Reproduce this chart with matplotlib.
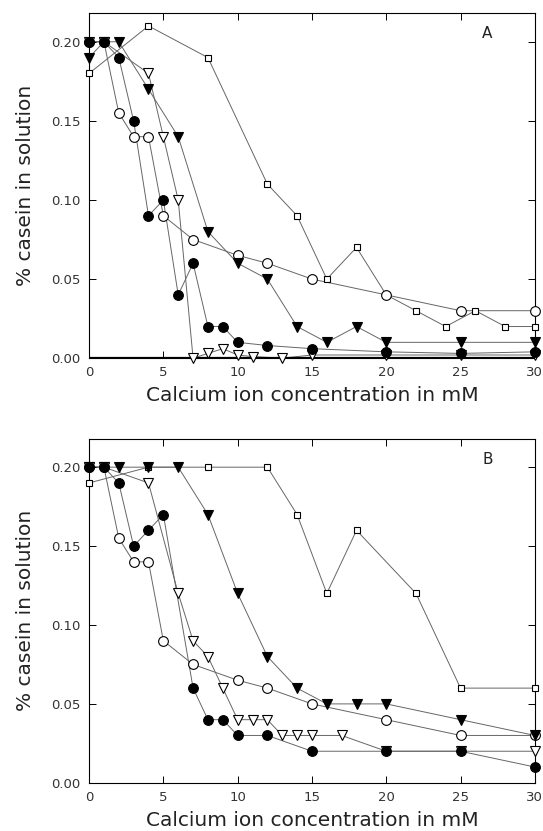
import matplotlib.pyplot as plt

# panel A data (% casein in solution vs calcium mM)
a_sq_x = [0, 4, 8, 12, 14, 16, 18, 20, 22, 24, 26, 28, 30]
a_sq_y = [0.18, 0.21, 0.19, 0.11, 0.09, 0.05, 0.07, 0.04, 0.03, 0.02, 0.03, 0.02, 0.02]
a_oc_x = [0, 1, 2, 3, 4, 5, 7, 10, 12, 15, 20, 25, 30]
a_oc_y = [0.20, 0.20, 0.155, 0.14, 0.14, 0.09, 0.075, 0.065, 0.06, 0.05, 0.04, 0.03, 0.03]
a_ft_x = [0, 1, 2, 4, 6, 8, 10, 12, 14, 16, 18, 20, 25, 30]
a_ft_y = [0.19, 0.20, 0.20, 0.17, 0.14, 0.08, 0.06, 0.05, 0.02, 0.01, 0.02, 0.01, 0.01, 0.01]
a_fc_x = [0, 1, 2, 3, 4, 5, 6, 7, 8, 9, 10, 12, 15, 20, 25, 30]
a_fc_y = [0.20, 0.20, 0.19, 0.15, 0.09, 0.10, 0.04, 0.06, 0.02, 0.02, 0.01, 0.008, 0.006, 0.004, 0.003, 0.004]
a_ot_x = [0, 1, 4, 5, 6, 7, 8, 9, 10, 11, 13, 15, 20, 25, 30]
a_ot_y = [0.20, 0.20, 0.18, 0.14, 0.10, 0.0, 0.003, 0.006, 0.002, 0.001, 0.0, 0.002, 0.002, 0.002, 0.002]

# panel B data
b_sq_x = [0, 4, 8, 12, 14, 16, 18, 22, 25, 30]
b_sq_y = [0.19, 0.20, 0.20, 0.20, 0.17, 0.12, 0.16, 0.12, 0.06, 0.06]
b_oc_x = [0, 1, 2, 3, 4, 5, 7, 10, 12, 15, 20, 25, 30]
b_oc_y = [0.20, 0.20, 0.155, 0.14, 0.14, 0.09, 0.075, 0.065, 0.06, 0.05, 0.04, 0.03, 0.03]
b_ft_x = [0, 1, 2, 4, 6, 8, 10, 12, 14, 16, 18, 20, 25, 30]
b_ft_y = [0.20, 0.20, 0.20, 0.20, 0.20, 0.17, 0.12, 0.08, 0.06, 0.05, 0.05, 0.05, 0.04, 0.03]
b_fc_x = [0, 1, 2, 3, 4, 5, 7, 8, 9, 10, 12, 15, 20, 25, 30]
b_fc_y = [0.20, 0.20, 0.19, 0.15, 0.16, 0.17, 0.06, 0.04, 0.04, 0.03, 0.03, 0.02, 0.02, 0.02, 0.01]
b_ot_x = [0, 1, 4, 6, 7, 8, 9, 10, 11, 12, 13, 14, 15, 17, 20, 25, 30]
b_ot_y = [0.20, 0.20, 0.19, 0.12, 0.09, 0.08, 0.06, 0.04, 0.04, 0.04, 0.03, 0.03, 0.03, 0.03, 0.02, 0.02, 0.02]

xticks = [0, 5, 10, 15, 20, 25, 30]
yticks = [0.00, 0.05, 0.10, 0.15, 0.20]
xlabel = 'Calcium ion concentration in mM'
ylabel = '% casein in solution'

plt.rcParams['font.family'] = ['DejaVu Sans']

fig = plt.figure(figsize=(5.43, 8.31), dpi=100)
axA = fig.add_axes([0.164, 0.569, 0.821, 0.415])
axB = fig.add_axes([0.164, 0.058, 0.821, 0.414])

line_kw = dict(color='0.4', lw=0.7)


def draw_panel(ax, series, letter):
    for x, y, mk, fc, ms in series:
        ax.plot(x, y, **line_kw, zorder=1)
        ax.plot(x, y, ls='none', marker=mk, ms=ms, mfc=fc, mec='black',
                mew=0.8, zorder=3, clip_on=False)
    ax.set_xlim(0, 30)
    ax.set_ylim(0, 0.218)
    ax.set_xticks(xticks)
    ax.set_yticks(yticks)
    ax.set_yticklabels(['%.2f' % v for v in yticks])
    ax.tick_params(direction='in', top=True, right=True, length=5, pad=6,
                   labelsize=9.5, colors='black', labelcolor='#333333', width=0.7)
    for s in ax.spines.values():
        s.set_linewidth(0.8)
    ax.set_xlabel(xlabel, fontsize=14.5, color='#222222', labelpad=5)
    ax.set_ylabel(ylabel, fontsize=14.5, color='#222222', labelpad=12)
    ax.text(26.8, 0.205, letter, fontsize=11, ha='center', va='center',
            color='#222222')


draw_panel(axA, [
    (a_sq_x, a_sq_y, 's', 'white', 5),
    (a_oc_x, a_oc_y, 'o', 'white', 7),
    (a_ft_x, a_ft_y, 'v', 'black', 7),
    (a_ot_x, a_ot_y, 'v', 'white', 7),
    (a_fc_x, a_fc_y, 'o', 'black', 7),
], 'A')
axA.axhline(0, color='black', lw=1.6, zorder=2)

draw_panel(axB, [
    (b_sq_x, b_sq_y, 's', 'white', 5),
    (b_oc_x, b_oc_y, 'o', 'white', 7),
    (b_ft_x, b_ft_y, 'v', 'black', 7),
    (b_ot_x, b_ot_y, 'v', 'white', 7),
    (b_fc_x, b_fc_y, 'o', 'black', 7),
], 'B')

fig.savefig('out.png', dpi=100)
